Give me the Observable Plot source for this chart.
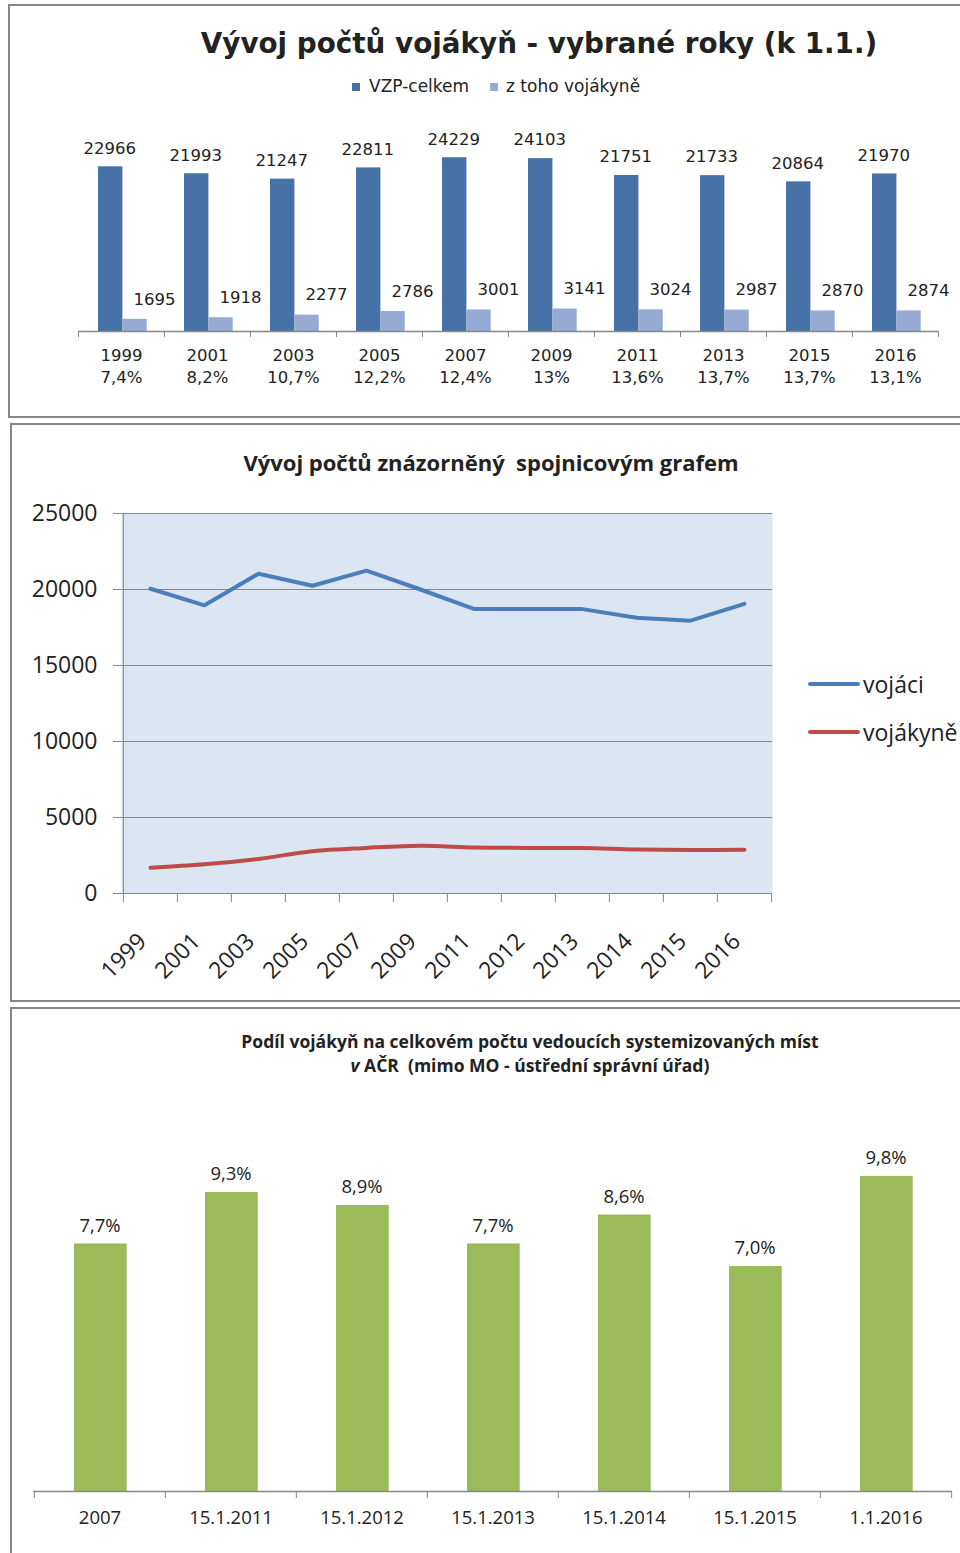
<!DOCTYPE html>
<html lang="cs">
<head>
<meta charset="utf-8">
<title>Vývoj počtů vojákyň</title>
<script src="https://cdn.jsdelivr.net/npm/d3@7"></script>
<script src="https://cdn.jsdelivr.net/npm/@observablehq/plot@0.6"></script>
<style>
  html, body { margin: 0; padding: 0; background: #fff; }
  #page { position: relative; width: 960px; height: 1553px; overflow: hidden; background: #fff; }
  .panel { position: absolute; box-sizing: border-box; border: 2px solid #878787; background: #fff; }
  .abs { position: absolute; white-space: nowrap; color: #222; }
  .chart { position: absolute; left: 0; }
  .chart svg { display: block; overflow: visible; }
  .sq { position: absolute; width: 8px; height: 8px; }
  .ln { position: absolute; width: 52px; height: 4px; border-radius: 2px; }
</style>
</head>
<body>
<div id="page">
  <div class="panel" style="left:8px;top:4px;width:1000px;height:414px;"></div>
  <div class="panel" style="left:10px;top:423px;width:1000px;height:579px;"></div>
  <div class="panel" style="left:10px;top:1007px;width:1000px;height:600px;"></div>

  <!-- chart 1 header -->
  <div class="abs" style="left:0;width:1078px;top:26px;text-align:center;font:bold 27.8px 'DejaVu Sans';line-height:36px;">Vývoj počtů vojákyň - vybrané roky (k 1.1.)</div>
  <div class="sq" style="left:352px;top:83px;background:#4672a7;"></div>
  <div class="abs" style="left:369px;top:76px;font:17px 'DejaVu Sans';line-height:20px;">VZP-celkem</div>
  <div class="sq" style="left:490px;top:83px;background:#95abd3;"></div>
  <div class="abs" style="left:506px;top:76px;font:17px 'DejaVu Sans';line-height:20px;">z toho vojákyně</div>
  <div id="chart1" class="chart" style="top:100px;"></div>

  <!-- chart 2 header + legend -->
  <div class="abs" style="left:0;width:982px;top:448px;text-align:center;font:bold 22px 'Open Sans';line-height:28px;">Vývoj počtů znázorněný&nbsp; spojnicovým grafem</div>
  <div id="chart2" class="chart" style="top:490px;"></div>
  <div class="ln" style="left:808px;top:682px;background:#4a7ebb;"></div>
  <div class="abs" style="left:863px;top:670px;font:23px 'Open Sans';line-height:28px;">vojáci</div>
  <div class="ln" style="left:808px;top:730px;background:#be4b48;"></div>
  <div class="abs" style="left:863px;top:718px;font:23px 'Open Sans';line-height:28px;">vojákyně</div>

  <!-- chart 3 header -->
  <div class="abs" style="left:0;width:1060px;top:1029px;text-align:center;font:bold 17.5px 'Open Sans';line-height:24px;">Podíl vojákyň na celkovém počtu vedoucích systemizovaných míst<br><i>v</i> AČR&nbsp; (mimo MO - ústřední správní úřad)</div>
  <div id="chart3" class="chart" style="top:1100px;"></div>
</div>
<script>
// ---------- data: chart 1 ----------
const years1 = ["1999", "2001", "2003", "2005", "2007", "2009", "2011", "2013", "2015", "2016"];
const vzpCelkem = [22966, 21993, 21247, 22811, 24229, 24103, 21751, 21733, 20864, 21970];
const zTohoVojakyne = [1695, 1918, 2277, 2786, 3001, 3141, 3024, 2987, 2870, 2874];
const podilProcent = ["7,4%", "8,2%", "10,7%", "12,2%", "12,4%", "13%", "13,6%", "13,7%", "13,7%", "13,1%"];

// ---------- data: chart 2 ----------
const years2 = ["1999", "2001", "2003", "2005", "2007", "2009", "2011", "2012", "2013", "2014", "2015", "2016"];
const vojaci = [20050, 18960, 21040, 20250, 21240, 20000, 18710, 18710, 18710, 18140, 17950, 19060];
const vojakyne = [1695, 1918, 2277, 2786, 3001, 3141, 3024, 3000, 2987, 2900, 2870, 2874];
const yTicks2 = [0, 5000, 10000, 15000, 20000, 25000];

// ---------- data: chart 3 ----------
const obdobi3 = ["2007", "15.1.2011", "15.1.2012", "15.1.2013", "15.1.2014", "15.1.2015", "1.1.2016"];
const podil3 = [7.7, 9.3, 8.9, 7.7, 8.6, 7.0, 9.8];

const GRAY = "#878787";
const INK = "#222";
const W = 960;

// ---------- chart 1 ----------
const data1 = years1.map((y, i) => ({year: y, total: vzpCelkem[i], women: zTohoVojakyne[i], pct: podilProcent[i]}));
const pctByYear = new Map(data1.map(d => [d.year, d.pct]));
const bw1 = (W - 78 - 22) / years1.length;
const chart1 = Plot.plot({
  width: W, height: 300,
  marginLeft: 78, marginRight: 22, marginTop: 51.7, marginBottom: 69,
  style: {fontFamily: "'DejaVu Sans'", fontSize: "16.5px", color: INK, background: "transparent", overflow: "visible"},
  x: {type: "band", domain: years1, padding: 0, label: null},
  y: {domain: [0, 25000], axis: null, label: null},
  marks: [
    Plot.barY(data1, {x: "year", y: "total", fill: "#4672a7", insetLeft: 20, insetRight: 41.6}),
    Plot.barY(data1, {x: "year", y: "women", fill: "#95abd3", insetLeft: 44.4, insetRight: 17.3}),
    Plot.ruleY([0], {stroke: GRAY, strokeWidth: 1.5}),
    Plot.axisX({tickSize: 6, fill: "none", stroke: GRAY, dx: -bw1 / 2, label: null}),
    Plot.axisX([years1[years1.length - 1]], {tickSize: 6, fill: "none", stroke: GRAY, dx: bw1 / 2, label: null}),
    Plot.axisX({tickSize: 0, tickPadding: 14.5, fontSize: 16.5, lineHeight: 1.3, fill: INK, label: null,
      tickFormat: d => `${d}\n${pctByYear.get(d)}`}),
    Plot.text(data1, {x: "year", y: "total", text: d => String(d.total), dx: -11.8, dy: -18.5, fontSize: 16.5, fill: INK}),
    Plot.text(data1, {x: "year", y: "women", text: d => String(d.women), dx: 33, dy: -20, fontSize: 16.5, fill: INK})
  ]
});
document.getElementById("chart1").append(chart1);

// ---------- chart 2 ----------
const data2 = years2.map((y, i) => ({year: y, vojaci: vojaci[i], vojakyne: vojakyne[i]}));
const bw2 = (W - 121 - 188) / years2.length;
const chart2 = Plot.plot({
  width: W, height: 505,
  marginLeft: 121, marginRight: 188, marginTop: 23, marginBottom: 102,
  style: {fontFamily: "'Open Sans'", fontSize: "23px", color: INK, background: "transparent", overflow: "visible"},
  x: {type: "band", domain: years2, padding: 0, label: null},
  y: {domain: [0, 25000], label: null},
  marks: [
    Plot.frame({fill: "#dce6f2", stroke: null}),
    Plot.gridY(yTicks2, {stroke: GRAY, strokeOpacity: 1}),
    Plot.ruleX([years2[0]], {dx: -bw2 / 2, stroke: GRAY}),
    Plot.axisY(yTicks2, {tickSize: 8, tickPadding: 16, stroke: GRAY, fill: INK, fontSize: 23, label: null, tickFormat: d => String(d)}),
    Plot.axisX({tickSize: 9, fill: "none", stroke: GRAY, dx: -bw2 / 2, label: null}),
    Plot.axisX([years2[years2.length - 1]], {tickSize: 9, fill: "none", stroke: GRAY, dx: bw2 / 2, label: null}),
    Plot.axisX({tickSize: 0, tickRotate: -45, tickPadding: 44, dx: -8, fontSize: 23, fill: INK, label: null}),
    Plot.line(data2, {x: "year", y: "vojaci", stroke: "#4a7ebb", strokeWidth: 4, strokeLinejoin: "round", strokeLinecap: "round"}),
    Plot.line(data2, {x: "year", y: "vojakyne", stroke: "#be4b48", strokeWidth: 4, curve: "catmull-rom", strokeLinejoin: "round", strokeLinecap: "round"})
  ]
});
document.getElementById("chart2").append(chart2);

// ---------- chart 3 ----------
const data3 = obdobi3.map((o, i) => ({obdobi: o, podil: podil3[i]}));
const bw3 = (W - 33 - 8) / obdobi3.length;
const chart3 = Plot.plot({
  width: W, height: 453,
  marginLeft: 33, marginRight: 8, marginTop: 69.5, marginBottom: 62,
  style: {fontFamily: "'Open Sans'", fontSize: "18.5px", color: INK, background: "transparent", overflow: "visible"},
  x: {type: "band", domain: obdobi3, padding: 0, label: null},
  y: {domain: [0, 10], axis: null, label: null},
  marks: [
    Plot.barY(data3, {x: "obdobi", y: "podil", fill: "#9bbb59", insetLeft: 40, insetRight: 38.3}),
    Plot.ruleY([0], {stroke: GRAY, strokeWidth: 1.5}),
    Plot.axisX({tickSize: 7, fill: "none", stroke: GRAY, dx: -bw3 / 2, label: null}),
    Plot.axisX([obdobi3[obdobi3.length - 1]], {tickSize: 7, fill: "none", stroke: GRAY, dx: bw3 / 2, label: null}),
    Plot.axisX({tickSize: 0, tickPadding: 19, fontSize: 18.5, fill: INK, label: null}),
    Plot.text(data3, {x: "obdobi", y: "podil", text: d => d.podil.toFixed(1).replace(".", ",") + "%", dy: -18, fontSize: 18.5, fill: INK})
  ]
});
document.getElementById("chart3").append(chart3);
</script>
</body>
</html>
